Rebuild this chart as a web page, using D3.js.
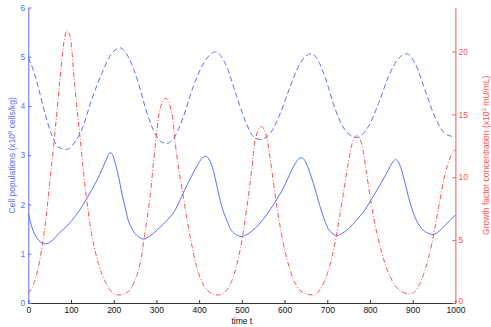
<!DOCTYPE html>
<html lang="en">
	<head>
		<meta charset="utf-8">
		<title>Cell populations and growth factor</title>
		<script type="text/javascript" src="https://d3js.org/d3.v7.min.js"></script>
		<style>
			body { margin: 0; background: #fff; }
			text { font-family: "Liberation Sans", Arial, sans-serif; }
		</style>
	</head>
	<body>
		<svg id="chart"></svg>
		<script>

			// solid blue curve (left axis)
			var tSolid = [0,10,20,30,39,50,60,70,90,109,130,148,160,172,182,191,197,203,211,219,227,234,242,250,259,269,
				285,300,316,332,344,359,372,385,396,406,416,423,433,441,449,457,465,472,480,490,500,
				517,535,550,566,578,590,602,613,623,632,640,647,656,664,671,679,687,695,702,711,722,
				736,750,769,788,803,815,827,838,847,854,860,866,874,882,890,898,905,913,921,933,948,962,976,988,1000];
			var cellSolid = [1.82,1.50,1.32,1.23,1.20,1.23,1.30,1.40,1.56,1.75,2.02,2.29,2.48,2.70,2.90,3.05,3.02,2.85,2.58,2.23,1.93,1.68,1.52,1.41,1.34,1.30,
				1.36,1.47,1.60,1.75,1.89,2.16,2.40,2.62,2.80,2.93,2.98,2.92,2.70,2.40,2.09,1.85,1.68,1.52,1.43,1.37,1.35,
				1.42,1.55,1.70,1.89,2.05,2.22,2.42,2.63,2.80,2.92,2.95,2.90,2.72,2.52,2.33,2.08,1.85,1.65,1.51,1.42,1.37,
				1.42,1.51,1.69,1.89,2.10,2.27,2.45,2.62,2.77,2.87,2.91,2.87,2.70,2.44,2.16,1.92,1.75,1.61,1.51,1.43,1.39,1.46,1.58,1.68,1.79];

			// dashed blue curve (left axis)
			var tDashed = [0,12,23,39,55,70,90,110,125,148,172,195,215,234,258,277,297,312,324,340,363,386,410,438,
				465,488,511,525,543,566,590,613,636,663,680,695,718,742,769,796,820,843,866,886,906,929,952,976,1000];
			var cellDashed = [4.98,4.72,4.39,3.85,3.41,3.17,3.12,3.28,3.51,4.12,4.66,5.06,5.18,5.00,4.46,3.88,3.44,3.27,3.24,3.34,3.78,4.39,4.86,5.10,
				4.79,4.19,3.64,3.40,3.32,3.44,3.85,4.39,4.86,5.06,4.90,4.58,3.95,3.51,3.36,3.58,4.05,4.59,4.96,5.06,4.86,4.32,3.78,3.44,3.37];

			// dash-dot red curve (right axis)
			var tGrowth = [0,16,27,39,51,63,74,82,90,98,109,121,133,148,164,180,195,212,234,250,262,273,285,297,308,322,336,
				347,363,379,394,410,433,445,465,480,496,512,523,531,546,558,570,582,597,613,629,652,668,
				687,703,718,734,749,761,769,781,792,804,820,835,851,874,894,913,929,945,961,976,988,1000];
			var growth = [0.77,1.83,3.42,6.07,9.79,13.76,17.74,20.4,21.67,21.19,17.2,13.2,9.25,5.54,3.16,1.7,0.9,0.64,0.9,1.83,3.16,5.54,8.46,12.44,15.35,16.28,15.09,
				11.9,8.46,5.28,2.89,1.43,0.72,0.64,1.03,2.09,4.22,7.66,10.58,12.97,14.03,13.2,10.58,7.66,4.75,2.63,1.3,0.72,0.64,
				1.3,2.63,4.75,7.93,11.1,13.0,13.3,12.6,10.3,7.66,5.0,3.16,1.83,0.9,0.72,1.3,2.63,4.75,7.66,10.3,11.6,12.2];

			var xTicks = [0,100,200,300,400,500,600,700,800,900,1000];
			var leftTicks = [0,1,2,3,4,5,6];
			var rightTicks = [0,5,10,15,20];

			var width = 491;
			var height = 327;
			var border = {left:28.3,right:35.6,top:7.5,bottom:24};
			var blue = "#5a6eff";
			var red = "#ff5252";

			var svg = d3.select("#chart")
				.attr("width",width)
				.attr("height",height);

			var xScale = d3.scaleLinear()
				.domain([0,1000])
				.range([border.left,width-border.right]);

			var yLeft = d3.scaleLinear()
				.domain([0,6])
				.range([height-border.bottom,border.top]);

			var yRight = d3.scaleLinear()
				.domain([0,23.5])
				.range([height-border.bottom,border.top]);

			function makeLine(ts,vs,yScale){
				return d3.line()
					.x((d,i)=>xScale(ts[i]))
					.y(d=>yScale(d))
					.curve(d3.curveMonotoneX)(vs);
			}

			svg.append("path")
				.attr("d",makeLine(tGrowth,growth,yRight))
				.attr("fill","none")
				.attr("stroke",red)
				.attr("stroke-width",1)
				.attr("stroke-dasharray","5,2,1,2");

			svg.append("path")
				.attr("d",makeLine(tDashed,cellDashed,yLeft))
				.attr("fill","none")
				.attr("stroke",blue)
				.attr("stroke-width",1)
				.attr("stroke-dasharray","5.5,3");

			svg.append("path")
				.attr("d",makeLine(tSolid,cellSolid,yLeft))
				.attr("fill","none")
				.attr("stroke",blue)
				.attr("stroke-width",1);

			// axes, ticks pointing inward like matlab
			var fmt = d3.format("d");

			var xAxis = svg.append("g")
				.attr("transform","translate(0,"+(height-border.bottom)+")")
				.call(d3.axisBottom(xScale).tickValues(xTicks).tickFormat(fmt).tickSize(-3).tickSizeOuter(0).tickPadding(4));

			var lAxis = svg.append("g")
				.attr("transform","translate("+border.left+",0)")
				.call(d3.axisLeft(yLeft).tickValues(leftTicks).tickFormat(fmt).tickSize(-3).tickSizeOuter(0).tickPadding(3));

			var rAxis = svg.append("g")
				.attr("transform","translate("+(width-border.right)+",0)")
				.call(d3.axisRight(yRight).tickValues(rightTicks).tickFormat(fmt).tickSize(-3).tickSizeOuter(0).tickPadding(3));

			xAxis.selectAll("path,line").attr("stroke","#333");
			xAxis.selectAll("text").attr("fill","#111");
			lAxis.selectAll("path,line").attr("stroke",blue);
			lAxis.selectAll("text").attr("fill",blue);
			rAxis.selectAll("path,line").attr("stroke",red);
			rAxis.selectAll("text").attr("fill",red);
			// right "0" sits a touch higher so it clears the 1000 label
			rAxis.selectAll(".tick text").filter(d=>d===0).attr("dy","0.1em");
			svg.selectAll(".tick text")
				.style("font-family","'Liberation Sans', Arial, sans-serif")
				.style("font-size","8.5px");

			svg.append("text")
				.attr("x",(border.left+width-border.right)/2)
				.attr("y",324)
				.attr("text-anchor","middle")
				.attr("font-size","8.5px")
				.attr("fill","#111")
				.text("time t");

			var midY = (border.top+height-border.bottom)/2;

			var lt = svg.append("text")
				.attr("transform","translate(12,"+midY+") rotate(-90)")
				.attr("dy","0.35em")
				.attr("text-anchor","middle")
				.attr("font-size","8.5px")
				.attr("fill",blue);
			lt.append("tspan").text("Cell populations  (x10");
			lt.append("tspan").attr("baseline-shift","super").attr("font-size","6px").text("8");
			lt.append("tspan").text(" cells/kg)");

			var rt = svg.append("text")
				.attr("transform","translate(486,"+midY+") rotate(-90)")
				.attr("dy","0.35em")
				.attr("text-anchor","middle")
				.attr("font-size","8.5px")
				.attr("fill",red);
			rt.append("tspan").text("Growth factor concentration (x10");
			rt.append("tspan").attr("baseline-shift","super").attr("font-size","6px").text("3");
			rt.append("tspan").text(" mU/mL)");
		</script>
	</body>
</html>
